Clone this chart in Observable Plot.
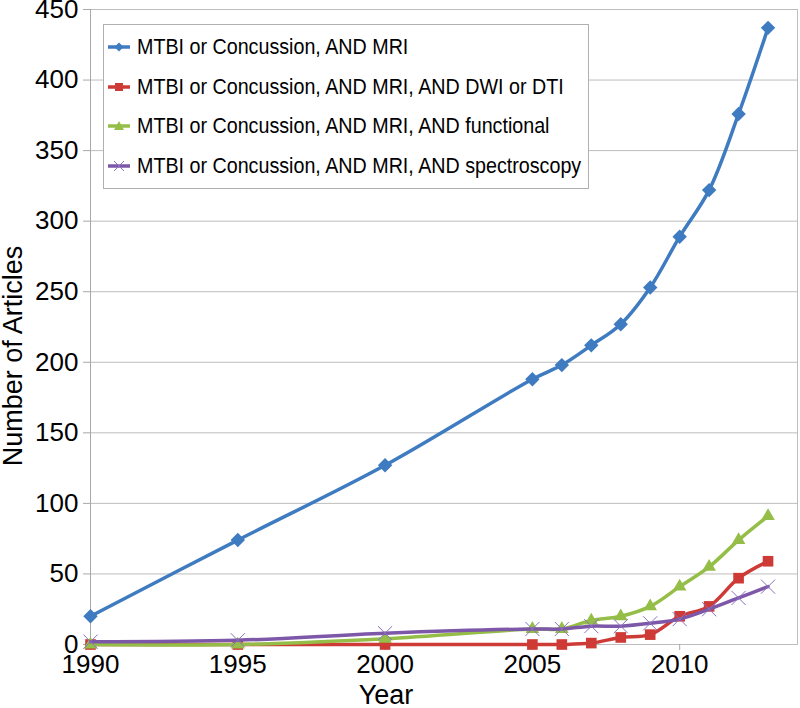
<!DOCTYPE html>
<html>
<head>
<meta charset="utf-8">
<script src="https://cdn.jsdelivr.net/npm/d3@7"></script>
<script src="https://cdn.jsdelivr.net/npm/@observablehq/plot@0.6"></script>
<style>
  html, body { margin: 0; padding: 0; background: #fff; }
  #wrap { position: relative; width: 800px; height: 708px; font-family: "Liberation Sans", Arial, Helvetica, sans-serif; }
  #legend { position: absolute; left: 103px; top: 24px; width: 486px; height: 165px; border: 1px solid #b0b0b0; background: #fff; box-sizing: border-box; }
  .item { position: absolute; left: 4px; height: 30px; display: flex; align-items: center; font-size: 22.5px; color: #000; white-space: nowrap; }
  .item svg { margin-right: 7px; flex: none; }
  .item span { display: inline-block; transform: scaleX(0.875); transform-origin: left center; }
</style>
</head>
<body>
<div id="wrap"></div>
<script>
const years = [1990, 1995, 2000, 2005, 2006, 2007, 2008, 2009, 2010, 2011, 2012, 2013];
const mri = [20, 74, 127, 188, 198, 212, 227, 253, 289, 322, 376, 437];
const dwi = [0, 0, 0, 0, 0, 1, 5, 7, 20, 27, 47, 59];
const functional = [0, 0, 4, 11, 11, 17, 20, 27, 41, 55, 74, 91];
const spectroscopy = [2, 3, 8, 11, 11, 13, 13, 15, 18, 25, 33, 41];
const seriesNames = [
  "MTBI or Concussion, AND MRI",
  "MTBI or Concussion, AND MRI, AND DWI or DTI",
  "MTBI or Concussion, AND MRI, AND functional",
  "MTBI or Concussion, AND MRI, AND spectroscopy"
];
const seriesValues = [mri, dwi, functional, spectroscopy];
const colors = ["#3F7BC1", "#CE3B36", "#95BE48", "#7E58A8"];
const symbols = ["diamond2", "square", "triangle2", "times"];
const xTicks = [1990, 1995, 2000, 2005, 2010];
const yTicks = [0, 50, 100, 150, 200, 250, 300, 350, 400, 450];
const xTitle = "Year";
const yTitle = "Number of Articles";

const font = "'Liberation Sans', Arial, Helvetica, sans-serif";
const marks = [
  Plot.ruleY(yTicks, {stroke: "#bdbdbd", strokeWidth: 1}),
  Plot.frame({stroke: "#bdbdbd"}),
  Plot.ruleX([1990], {stroke: "#a8a8a8"}),
  Plot.axisX({ticks: xTicks, tickFormat: d => String(d), tickSize: 6, tickPadding: 4, stroke: "#a8a8a8", fontSize: 26, label: null}),
  Plot.axisY({ticks: yTicks, tickSize: 7, tickPadding: 5, stroke: "#a8a8a8", fontSize: 26, label: null}),
  Plot.text([yTitle], {text: d => d, frameAnchor: "left", textAnchor: "middle", lineAnchor: "middle", dx: -77, dy: 29, rotate: -90, fontSize: 27, fill: "#000"}),
  Plot.text([xTitle], {text: d => d, frameAnchor: "bottom", textAnchor: "middle", lineAnchor: "middle", dx: -58, dy: 51, fontSize: 27, fill: "#000"})
];
seriesValues.forEach((vals, i) => {
  const data = years.map((y, j) => ({year: y, value: vals[j]}));
  marks.push(Plot.line(data, {x: "year", y: "value", stroke: colors[i], strokeWidth: 3.5, curve: "catmull-rom"}));
  if (symbols[i] === "times") {
    marks.push(Plot.dot(data, {x: "year", y: "value", symbol: "times", r: 6.5, stroke: "#8a70c0", strokeWidth: 1}));
  } else {
    marks.push(Plot.dot(data, {x: "year", y: "value", symbol: symbols[i], r: symbols[i] === "square" ? 6 : 6.5, fill: colors[i], stroke: "none"}));
  }
});

const chart = Plot.plot({
  width: 800, height: 708,
  marginLeft: 90, marginRight: 3, marginTop: 9, marginBottom: 64,
  style: {fontFamily: font, fontSize: "26px", color: "#000", background: "#fff", overflow: "visible"},
  x: {domain: [1990, 2014]},
  y: {domain: [0, 450]},
  marks
});
const wrap = document.getElementById("wrap");
wrap.appendChild(chart);

const legend = document.createElement("div");
legend.id = "legend";
const sym = {
  diamond2: c => `<polygon points="11,-4.5 15.5,0 11,4.5 6.5,0" fill="${c}"/>`,
  square: c => `<rect x="7" y="-4" width="8" height="8" fill="${c}"/>`,
  triangle2: c => `<polygon points="11,-5 16,4 6,4" fill="${c}"/>`,
  times: c => `<path d="M6,-5L16,5M6,5L16,-5" stroke="#8a70c0" stroke-width="1"/>`
};
seriesNames.forEach((name, i) => {
  const it = document.createElement("div");
  it.className = "item";
  it.style.top = (7 + i * 39.5) + "px";
  it.innerHTML = `<svg width="22" height="14" viewBox="0 -7 22 14"><line x1="0" x2="22" y1="0" y2="0" stroke="${colors[i]}" stroke-width="3.5"/>${sym[symbols[i]](colors[i])}</svg><span>${name}</span>`;
  legend.appendChild(it);
});
wrap.appendChild(legend);
</script>
</body>
</html>
